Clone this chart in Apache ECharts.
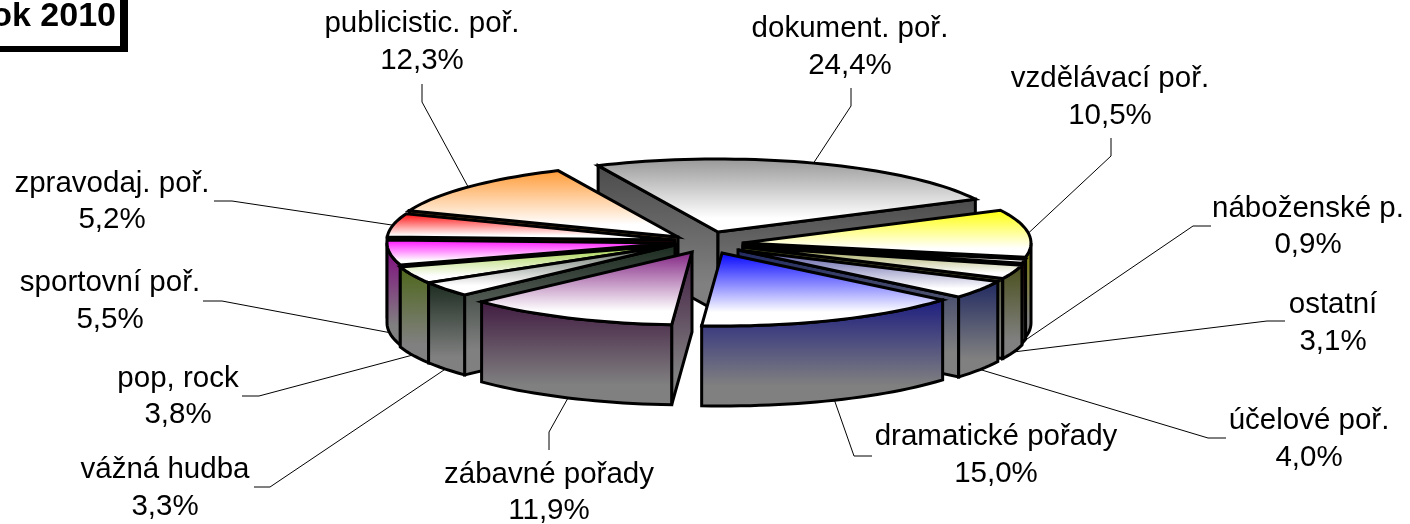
<!DOCTYPE html>
<html><head><meta charset="utf-8">
<style>html,body{margin:0;padding:0;background:#fff}#c{width:1410px;height:524px}</style>
<script src="https://cdn.jsdelivr.net/npm/echarts@6/dist/echarts.min.js"></script>
</head><body><div id="c"></div>
<script>
// ---- data, clockwise from the start angle ----
const categories = ['dokument. poř.','vzdělávací poř.','náboženské p.','ostatní','účelové poř.','dramatické pořady','zábavné pořady','vážná hudba','pop, rock','sportovní poř.','zpravodaj. poř.','publicistic. poř.'];
const shares = [24.4,10.5,0.9,3.1,4.0,15.0,11.9,3.3,3.8,5.5,5.2,12.3];
const chartTitle = 'Rok 2010';

// ---- styles ----
const topColors  = ['#969696','#ffff00','#8a2020','#969a40','#4a4a9c','#0000ff','#7f1f80','#5a665a','#99cc33','#ff00ff','#ff0000','#ff9933'];
const wallColors = ['#4b4b4b','#808000','#400000','#4a4f1a','#1f2860','#1c1c80','#401a40','#1a2a1e','#4d6618','#800080','#800000','#804c14'];

// ---- layout ----
const RX = 288, RY = 73, DEPTH = 80, START = -24.6;
const apexes = [[718,232],[743,243],[743,245],[743,247],[738,250],[722,253],[692,252],[675,245],[675,245],[675,243],[675,240],[678,237]];
const paintOrder = [0,11,10,9,8,7,1,2,3,4,6,5];
const labelCenters = [[850,47.5],[1110,97.5],[1308,227],[1333,323.5],[1309,439.5],[996,455.5],[549,493],[165,488.5],[178,397],[110,301.5],[112,202],[422,42.5]];
const leaderElbows = [
  [[851,88],[851,106]], [[1111,138],[1111,156]], [[1211,226],[1193,226]], [[1285,321],[1267,321]],
  [[1226,438],[1208,438]], [[872,456],[854,456]], [[549,450],[549,432]], [[254,487],[270,487]],
  [[242,396],[259,396]], [[203,301],[222,301]], [[214,201],[232,201]], [[422,84],[422,102]]
];

const total = shares.reduce((a,b)=>a+b,0);
const rad = d => d*Math.PI/180;
const startAngles = [];
shares.reduce((acc,v,i)=>{ startAngles[i]=acc; return acc+v/total*360; }, START);
const sliceRange = i => [startAngles[i], startAngles[i]+shares[i]/total*360];
const pt = (i,deg,dz) => [apexes[i][0]+RX*Math.sin(rad(deg)), apexes[i][1]-RY*Math.cos(rad(deg))+(dz||0)];
const arc = (i,a,b,dz) => { const n=Math.max(2,Math.ceil(Math.abs(b-a)/2)), o=[]; for(let k=0;k<=n;k++) o.push(pt(i,a+(b-a)*k/n,dz)); return o; };
const grad = (a,b) => new echarts.graphic.LinearGradient(0,0,0,1,[{offset:0,color:a},{offset:0.8,color:b},{offset:1,color:b}]);
const edge = {stroke:'#000',lineWidth:3,lineJoin:'miter',miterLimit:5};
const poly = (points,fill) => ({type:'polygon',shape:{points},style:Object.assign({fill},edge)});

function renderSlice(params, api){
  const i = api.value(0);
  const [a,b] = sliceRange(i);
  const ap = apexes[i], kids = [];
  const wallFill = () => grad(wallColors[i],'#808080');
  const norm = d => ((d%360)+360)%360;
  const radial = d => poly([[ap[0],ap[1]],pt(i,d),pt(i,d,DEPTH),[ap[0],ap[1]+DEPTH]],wallFill());
  if(Math.sin(rad(norm(a)))<0) kids.push(radial(a));
  if(Math.sin(rad(norm(b)))>0) kids.push(radial(b));
  const oa = Math.max(norm(a),90), ob = Math.min(norm(a)+(b-a),270);
  if(ob>oa){
    const top = arc(i,oa,ob,0), bot = arc(i,oa,ob,DEPTH).reverse();
    kids.push(poly(top.concat(bot),wallFill()));
  }
  kids.push(poly([[ap[0],ap[1]]].concat(arc(i,a,b,0)),grad(topColors[i],'#ffffff')));
  return {type:'group',children:kids};
}

function renderLabel(params, api){
  const i = api.value(0);
  const [a,b] = sliceRange(i);
  const mid = (a+b)/2;
  const anchor = pt(i,mid,Math.cos(rad(mid))<0?DEPTH:0);
  const [e1,e2] = leaderElbows[i];
  const [cx,cy] = labelCenters[i];
  return {type:'group',children:[
    {type:'polyline',shape:{points:[e1,e2,anchor]},style:{stroke:'#000',lineWidth:1,fill:null}},
    {type:'text',x:cx,y:cy,style:{text:categories[i]+'\n'+api.value(1).toFixed(1).replace('.',',')+'%',
      fill:'#000',font:'29.5px "Liberation Sans", Arial, sans-serif',align:'center',verticalAlign:'middle',lineHeight:36.5}}
  ]};
}

const chart = echarts.init(document.getElementById('c'),null,{renderer:'canvas'});
chart.setOption({
  animation:false,
  backgroundColor:'#ffffff',
  graphic:[
    {type:'rect',z:10,shape:{x:-12,y:-12,width:140,height:64},style:{fill:'#000'}},
    {type:'rect',z:11,shape:{x:-12,y:-12,width:132,height:58},style:{fill:'#fff'}},
    {type:'text',z:12,x:116,y:17,style:{text:chartTitle,font:'bold 34px "Liberation Sans", Arial, sans-serif',fill:'#000',align:'right',verticalAlign:'middle'}}
  ],
  series:[
    {type:'custom',coordinateSystem:'none',silent:true,z:3,renderItem:renderLabel,
     data:shares.map((v,i)=>[i,v])},
    {type:'custom',coordinateSystem:'none',silent:true,z:2,renderItem:renderSlice,
     data:paintOrder.map(i=>[i,shares[i]])}
  ]
});
</script></body></html>
